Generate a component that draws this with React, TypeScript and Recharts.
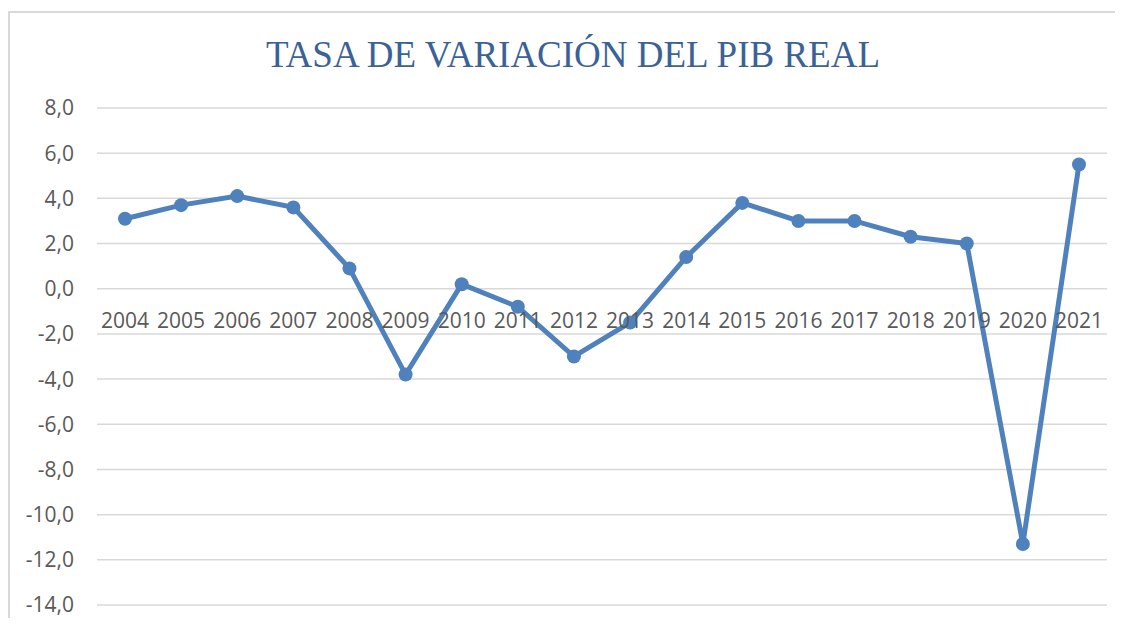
import { LineChart, Line, XAxis, YAxis, CartesianGrid } from "recharts";

const years = [
  "2004", "2005", "2006", "2007", "2008", "2009", "2010", "2011", "2012",
  "2013", "2014", "2015", "2016", "2017", "2018", "2019", "2020", "2021",
];
const pibVariation = [
  3.1, 3.7, 4.1, 3.6, 0.9, -3.8, 0.2, -0.8, -3.0,
  -1.5, 1.4, 3.8, 3.0, 3.0, 2.3, 2.0, -11.3, 5.5,
];
const yTicks = [-14, -12, -10, -8, -6, -4, -2, 0, 2, 4, 6, 8];
const Y_MIN = -14;
const Y_MAX = 8;

const data = years.map((year, i) => ({ year, value: pibVariation[i] }));

const CHART_W = 1113;
const CHART_H = 605;
const MARGIN = { top: 95, right: 16, bottom: 12, left: 0 };
const X_AXIS_H = 1;
const PLOT_H = CHART_H - MARGIN.top - MARGIN.bottom - X_AXIS_H;

const fmt = (v: number) => v.toFixed(1).replace(".", ",");

// Excel draws the category labels just under the zero line, not at the bottom
const YearTick = ({ x, y, payload }: any) => {
  const zeroOffset = (PLOT_H * (0 - Y_MIN)) / (Y_MAX - Y_MIN);
  return (
    <text
      x={x}
      y={y - zeroOffset + 31}
      textAnchor="middle"
      dominantBaseline="central"
      fill="#595959"
      fontSize={21}
      fontFamily="'Open Sans', sans-serif"
    >
      {payload.value}
    </text>
  );
};

const App = () => {
  return (
    <div
      style={{
        position: "relative",
        width: 1113,
        height: 605,
        marginTop: 3,
        borderLeft: "2px solid #d9d9d9",
        borderTop: "2px solid #d9d9d9",
        background: "#fff",
      }}
    >
      <div
        style={{
          position: "absolute",
          left: 0,
          top: 20,
          width: 1126,
          textAlign: "center",
          fontFamily: "'Liberation Serif', 'Times New Roman', serif",
          fontSize: 37,
          color: "#3b6297",
          whiteSpace: "nowrap",
        }}
      >
        TASA DE VARIACIÓN DEL PIB REAL
      </div>
      <LineChart width={CHART_W} height={CHART_H} data={data} margin={MARGIN}>
        <CartesianGrid vertical={false} stroke="#d9d9d9" strokeWidth={1.5} />
        <XAxis
          dataKey="year"
          axisLine={false}
          tickLine={false}
          tickSize={0}
          tickMargin={0}
          height={X_AXIS_H}
          interval={0}
          padding={{ left: 28, right: 28 }}
          tick={(props: any) => <YearTick {...props} />}
        />
        <YAxis
          domain={[Y_MIN, Y_MAX]}
          ticks={yTicks}
          tickFormatter={fmt}
          axisLine={false}
          tickLine={false}
          tickSize={0}
          tickMargin={23}
          width={87}
          tick={{
            fill: "#595959",
            fontSize: 21,
            fontFamily: "'Open Sans', sans-serif",
          }}
        />
        <Line
          type="linear"
          dataKey="value"
          stroke="#4f81bd"
          strokeWidth={5}
          dot={{ r: 7, fill: "#4f81bd", stroke: "#4f81bd", strokeWidth: 0 }}
          isAnimationActive={false}
        />
      </LineChart>
    </div>
  );
};

export default App;
